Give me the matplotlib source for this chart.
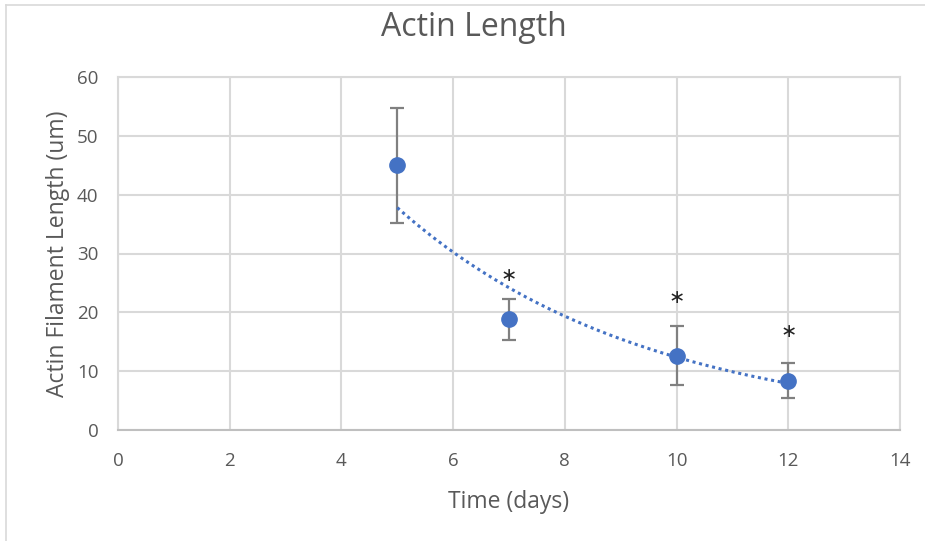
import numpy as np
import matplotlib.pyplot as plt
from matplotlib.lines import Line2D

# data
days = [5, 7, 10, 12]
length = [45.0, 18.8, 12.6, 8.4]
err = [9.8, 3.5, 5.0, 3.0]
star_days = [7, 10, 12]
star_y = [26.3, 22.6, 16.7]

blue = '#4472C4'
txt = '#595959'
grid = '#d9d9d9'

plt.rcParams['font.family'] = ['Open Sans', 'DejaVu Sans']

fig = plt.figure(figsize=(9.25, 5.41), dpi=100)
ax = fig.add_axes([118/925, 111/541, 782/925, 353/541])

# exponential trendline (Excel style) fitted to the points
b, ln_a = np.polyfit(days, np.log(length), 1)
xs = np.linspace(min(days), max(days), 200)
ax.plot(xs, np.exp(ln_a) * np.exp(b * xs), color=blue, lw=2.2,
        linestyle=(0, (1, 1.2)), zorder=3)

ax.errorbar(days, length, yerr=err, fmt='none', ecolor='#808080',
            elinewidth=1.6, capsize=5, capthick=1.6, zorder=2)
ax.plot(days, length, 'o', color=blue, ms=11, zorder=4)

for x, y in zip(star_days, star_y):
    ax.text(x, y, '\u2217', ha='center', va='center', fontsize=14,
            color='#222222', family='DejaVu Sans')

ax.set_xlim(0, 14)
ax.set_ylim(0, 60)
ax.set_xticks(range(0, 15, 2))
ax.set_yticks(range(0, 61, 10))
ax.grid(True, color=grid, lw=1.5)
ax.set_axisbelow(True)
for s in ax.spines.values():
    s.set_color(grid)
    s.set_linewidth(1.5)
ax.spines['bottom'].set_color('#bfbfbf')
ax.tick_params(length=0, labelsize=13.5, colors=txt)
ax.tick_params(axis='x', pad=16)
ax.tick_params(axis='y', pad=14)

fig.text(474/925, 1 - 28/541, 'Actin Length', fontsize=23, color=txt,
         ha='center', va='center')
ax.set_xlabel('Time (days)', fontsize=16.5, color=txt, labelpad=14)
ax.set_ylabel('Actin Filament Length (um)', fontsize=16.5, color=txt, labelpad=5)

# chart frame
fig.add_artist(Line2D([6/925, 6/925], [0, 1 - 5/541], color='#d9d9d9', lw=1.2))
fig.add_artist(Line2D([6/925, 1], [1 - 5/541, 1 - 5/541], color='#d9d9d9', lw=1.2))

fig.savefig('out.png', dpi=100)
